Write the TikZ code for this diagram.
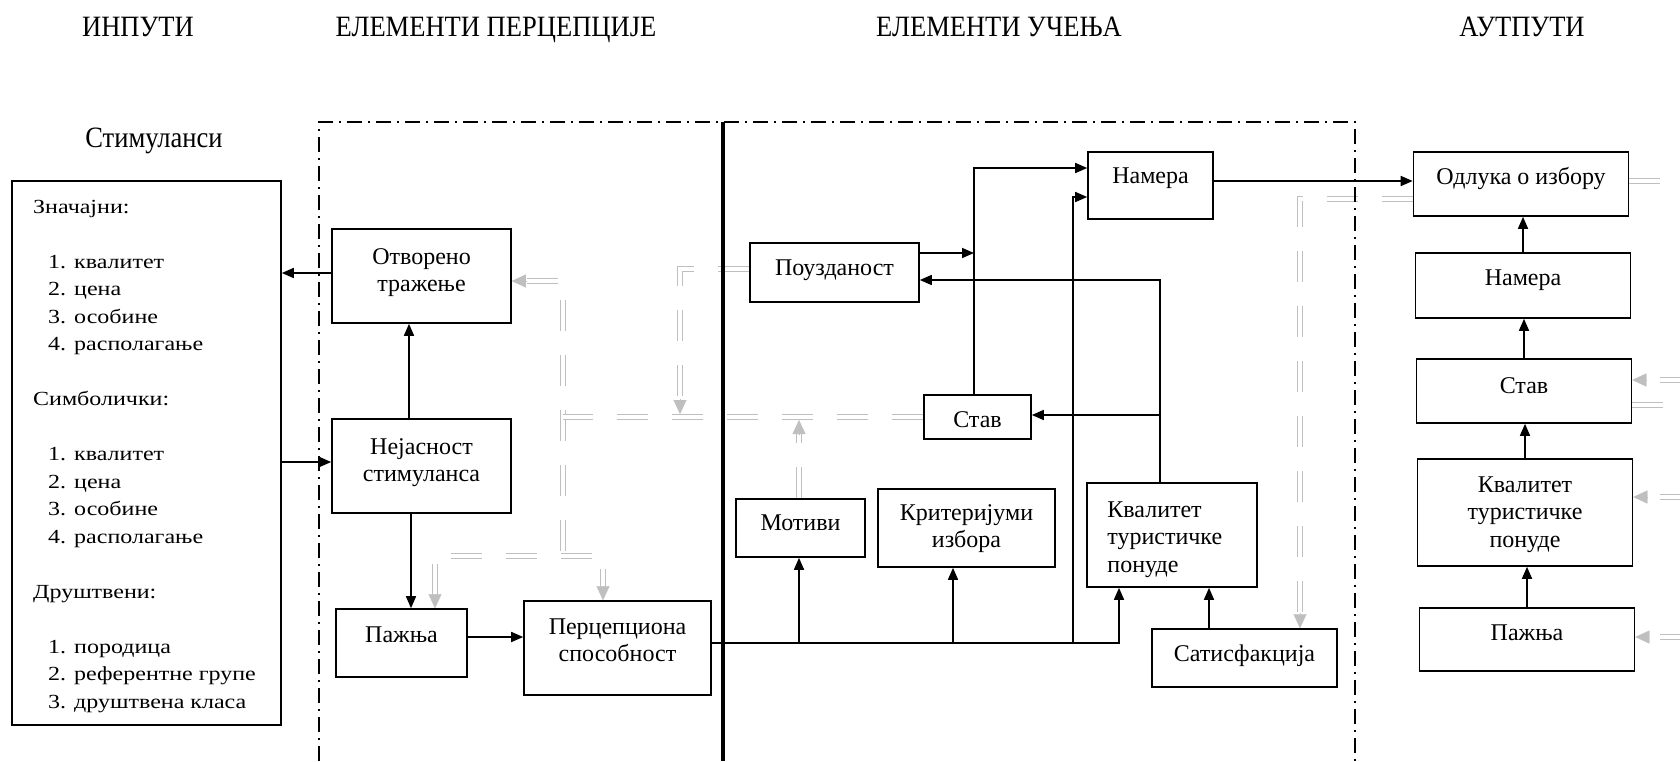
\documentclass[tikz,border=0pt]{standalone}
\usepackage{fontspec}
\setmainfont{Liberation Serif}
\newfontfamily\listfont[FakeStretch=1.2]{Liberation Serif}
\newfontfamily\titlefont[FakeStretch=0.9]{Liberation Serif}
\usetikzlibrary{arrows.meta}
\definecolor{fbgray}{RGB}{191,191,191}
\pgfdeclarelayer{bg}
\pgfsetlayers{bg,main}
\begin{document}
\begin{tikzpicture}[x=1pt,y=-1pt,
  box/.style={draw, line width=1.6pt, inner sep=0pt},
  lbl/.style={anchor=north, inner sep=0pt, align=center, font=\fontsize{24}{27.5}\selectfont},
  arr/.style={line width=1.6pt, -{Triangle[length=12pt,width=10pt]}},
  fb/.style={draw=fbgray, double=white, line width=1.7pt, double distance=3.2pt, dash pattern=on 31pt off 24pt},
  fbtip/.style={draw=fbgray, fill=fbgray, line width=0.1pt, -{Triangle[length=14pt,width=13pt]}},
  frame/.style={line width=1.4pt, dash pattern=on 15pt off 6pt on 2pt off 6pt},
  title/.style={anchor=base, inner sep=0pt, font=\titlefont\fontsize{29.5}{30}\selectfont}]

\useasboundingbox (0,0) rectangle (1680,761);

% ---------- titles ----------
\node[title] (tIn) at (138,36) {ИНПУТИ};
\node[title] (tPer) at (496,36) {ЕЛЕМЕНТИ ПЕРЦЕПЦИЈЕ};
\node[title] (tUc) at (999,36) {ЕЛЕМЕНТИ УЧЕЊА};
\node[title] (tOut) at (1522,36) {АУТПУТИ};
\node[title] (tSt) at (154,147) {Стимуланси};

% ---------- coordinates ----------
\coordinate (fTL) at (319,122);
\coordinate (fTR) at (1355,122);
\coordinate (fBL) at (319,761);
\coordinate (fBR) at (1355,761);
\coordinate (tT) at (723,122);
\coordinate (tB) at (723,761);

\coordinate (gA) at (563,281);
\coordinate (gB) at (527,281);
\coordinate (gC) at (563,556);
\coordinate (gD) at (435,556);
\coordinate (gE) at (435,595);
\coordinate (gF) at (603,556);
\coordinate (gG) at (603,587);
\coordinate (gH) at (680,269);
\coordinate (gI) at (680,399);
\coordinate (gJ) at (680,414);
\coordinate (gK) at (799,434);
\coordinate (gL) at (799,420);
\coordinate (gM) at (1300,199);
\coordinate (gN) at (1300,613);
\coordinate (gP) at (563,417);

\coordinate (s1) at (1660,181);
\coordinate (s2) at (1663,405);
\coordinate (s3a) at (1660,380);
\coordinate (s3b) at (1690,380);
\coordinate (s3c) at (1647,380);
\coordinate (s4a) at (1660,497);
\coordinate (s4b) at (1690,497);
\coordinate (s4c) at (1647,497);
\coordinate (s5a) at (1660,637);
\coordinate (s5b) at (1690,637);
\coordinate (s5c) at (1647,637);

\coordinate (yA) at (0,273);
\coordinate (yB) at (0,462);
\coordinate (xNO) at (409,0);
\coordinate (xNP) at (411,0);
\coordinate (yPP) at (0,637);
\coordinate (yBus) at (0,643);
\coordinate (xMot) at (799,0);
\coordinate (xKrit) at (953,0);
\coordinate (xV2) at (1073,0);
\coordinate (xKv) at (1119,0);
\coordinate (xSat) at (1209,0);
\coordinate (xR) at (1160,0);
\coordinate (xV1) at (974,0);
\coordinate (yN1) at (0,168);
\coordinate (yN2) at (0,197);
\coordinate (yPo1) at (0,253);
\coordinate (yPo2) at (0,280);
\coordinate (yStav) at (0,415);
\coordinate (yOd) at (0,181);

% ---------- boxes ----------
\node[box, minimum width=269pt, minimum height=544pt] (stim) at (146.5,453) {};
\node[anchor=north west, inner sep=0pt, align=left, font=\listfont\fontsize{20}{27.5}\selectfont] (stimtext) at (33,200) {Значајни:\\ \mbox{}\\
\hspace*{15pt}1. квалитет\\ \hspace*{15pt}2. цена\\ \hspace*{15pt}3. особине\\ \hspace*{15pt}4. располагање\\ \mbox{}\\
Симболички:\\ \mbox{}\\
\hspace*{15pt}1. квалитет\\ \hspace*{15pt}2. цена\\ \hspace*{15pt}3. особине\\ \hspace*{15pt}4. располагање\\ \mbox{}\\
Друштвени:\\ \mbox{}\\
\hspace*{15pt}1. породица\\ \hspace*{15pt}2. референтне групе\\ \hspace*{15pt}3. друштвена класа};

\node[box, minimum width=179pt, minimum height=94pt, label={[lbl,yshift=-20pt]north:{Отворено\\тражење}}] (otv) at (421.5,276) {};
\node[box, minimum width=179pt, minimum height=94pt, label={[lbl,yshift=-20pt]north:{Нејасност\\стимуланса}}] (nej) at (421.5,466) {};
\node[box, minimum width=131pt, minimum height=68pt, label={[lbl,yshift=-18pt]north:{Пажња}}] (paz) at (401.5,643) {};
\node[box, minimum width=187pt, minimum height=94pt, label={[lbl,yshift=-18pt]north:{Перцепциона\\способност}}] (per) at (617.5,648) {};
\node[box, minimum width=169pt, minimum height=59pt, label={[lbl,yshift=-17pt]north:{Поузданост}}] (pou) at (834.5,272.5) {};
\node[box, minimum width=107pt, minimum height=44pt, label={[lbl,yshift=-17pt]north:{Став}}] (stav) at (977.5,417) {};
\node[box, minimum width=125pt, minimum height=67pt, label={[lbl,yshift=-16pt]north:{Намера}}] (nam) at (1150.5,185.5) {};
\node[box, minimum width=129pt, minimum height=58pt, label={[lbl,yshift=-16pt]north:{Мотиви}}] (mot) at (800.5,528) {};
\node[box, minimum width=177pt, minimum height=78pt, label={[lbl,yshift=-16pt]north:{Критеријуми\\избора}}] (krit) at (966.5,528) {};
\node[box, minimum width=170pt, minimum height=104pt, label={[lbl,anchor=north west,align=left,xshift=21pt,yshift=-19pt]north west:{Квалитет\\туристичке\\понуде}}] (kval) at (1172,535) {};
\node[box, minimum width=185pt, minimum height=58pt, label={[lbl,yshift=-16pt]north:{Сатисфакција}}] (sat) at (1244.5,658) {};

\node[box, minimum width=215pt, minimum height=64pt, label={[lbl,yshift=-16pt]north:{Одлука о избору}}] (odl) at (1521,184) {};
\node[box, minimum width=215pt, minimum height=65pt, label={[lbl,yshift=-17pt]north:{Намера}}] (namR) at (1523,285.5) {};
\node[box, minimum width=215pt, minimum height=64pt, label={[lbl,yshift=-19pt]north:{Став}}] (stavR) at (1524,391) {};
\node[box, minimum width=215pt, minimum height=107pt, label={[lbl,yshift=-18pt]north:{Квалитет\\туристичке\\понуде}}] (kvalR) at (1525,512.5) {};
\node[box, minimum width=215pt, minimum height=63pt, label={[lbl,yshift=-17pt]north:{Пажња}}] (pazR) at (1527,639.5) {};

% ---------- gray feedback lines (behind) ----------
\begin{pgfonlayer}{bg}
\draw[fb] (gB) -- (gA) -- (gC);
\draw[fbtip] (gB) -- (otv.east |- gB);
\draw[fb] (stav.west) -- (gP);
\draw[fb] (gE) -- (gD) -- (gF) -- (gG);
\draw[fbtip] (gE) -- (paz.north -| gE);
\draw[fbtip] (gG) -- (per.north -| gG);
\draw[fb] (pou.west |- gH) -- (gH) -- (gI);
\draw[fbtip] (gI) -- (gJ);
\draw[fb] (mot.north -| gK) -- (gK);
\draw[fbtip] (gK) -- (gL);
\draw[fb] (odl.west |- gM) -- (gM) -- (gN);
\draw[fbtip] (gN) -- (sat.north -| gN);
\draw[fb, solid] (odl.east |- s1) -- (s1);
\draw[fb, solid] (stavR.east |- s2) -- (s2);
\draw[fb, solid] (s3a) -- (s3b);
\draw[fbtip] (s3c) -- (stavR.east |- s3c);
\draw[fb, solid] (s4a) -- (s4b);
\draw[fbtip] (s4c) -- (kvalR.east |- s4c);
\draw[fb, solid] (s5a) -- (s5b);
\draw[fbtip] (s5c) -- (pazR.east |- s5c);
\end{pgfonlayer}

% ---------- frame and divider ----------
\draw[frame] (fBL) -- (fTL) -- (fTR) -- (fBR);
\draw[line width=3.5pt] (tT) -- (tB);

% ---------- black connectors ----------
\draw[arr] (otv.west |- yA) -- (stim.east |- yA);
\draw[arr] (stim.east |- yB) -- (nej.west |- yB);
\draw[arr] (nej.north -| xNO) -- (otv.south -| xNO);
\draw[arr] (nej.south -| xNP) -- (paz.north -| xNP);
\draw[arr] (paz.east |- yPP) -- (per.west |- yPP);
\draw[arr] (per.east |- yBus) -| (kval.south -| xKv);
\draw[arr] (xMot |- yBus) -- (mot.south -| xMot);
\draw[arr] (xKrit |- yBus) -- (krit.south -| xKrit);
\draw[arr] (xV2 |- yBus) |- (nam.west |- yN2);
\draw[arr] (sat.north -| xSat) -- (kval.south -| xSat);
\draw[arr] (kval.north -| xR) |- (pou.east |- yPo2);
\draw[arr] (xR |- yStav) -- (stav.east |- yStav);
\draw[arr] (stav.north -| xV1) |- (nam.west |- yN1);
\draw[arr] (pou.east |- yPo1) -- (xV1 |- yPo1);
\draw[arr] (nam.east |- yOd) -- (odl.west |- yOd);
\draw[arr] (pazR.north) -- (kvalR.south -| pazR.north);
\draw[arr] (kvalR.north) -- (stavR.south -| kvalR.north);
\draw[arr] (stavR.north) -- (namR.south -| stavR.north);
\draw[arr] (namR.north) -- (odl.south -| namR.north);
\end{tikzpicture}
\end{document}
